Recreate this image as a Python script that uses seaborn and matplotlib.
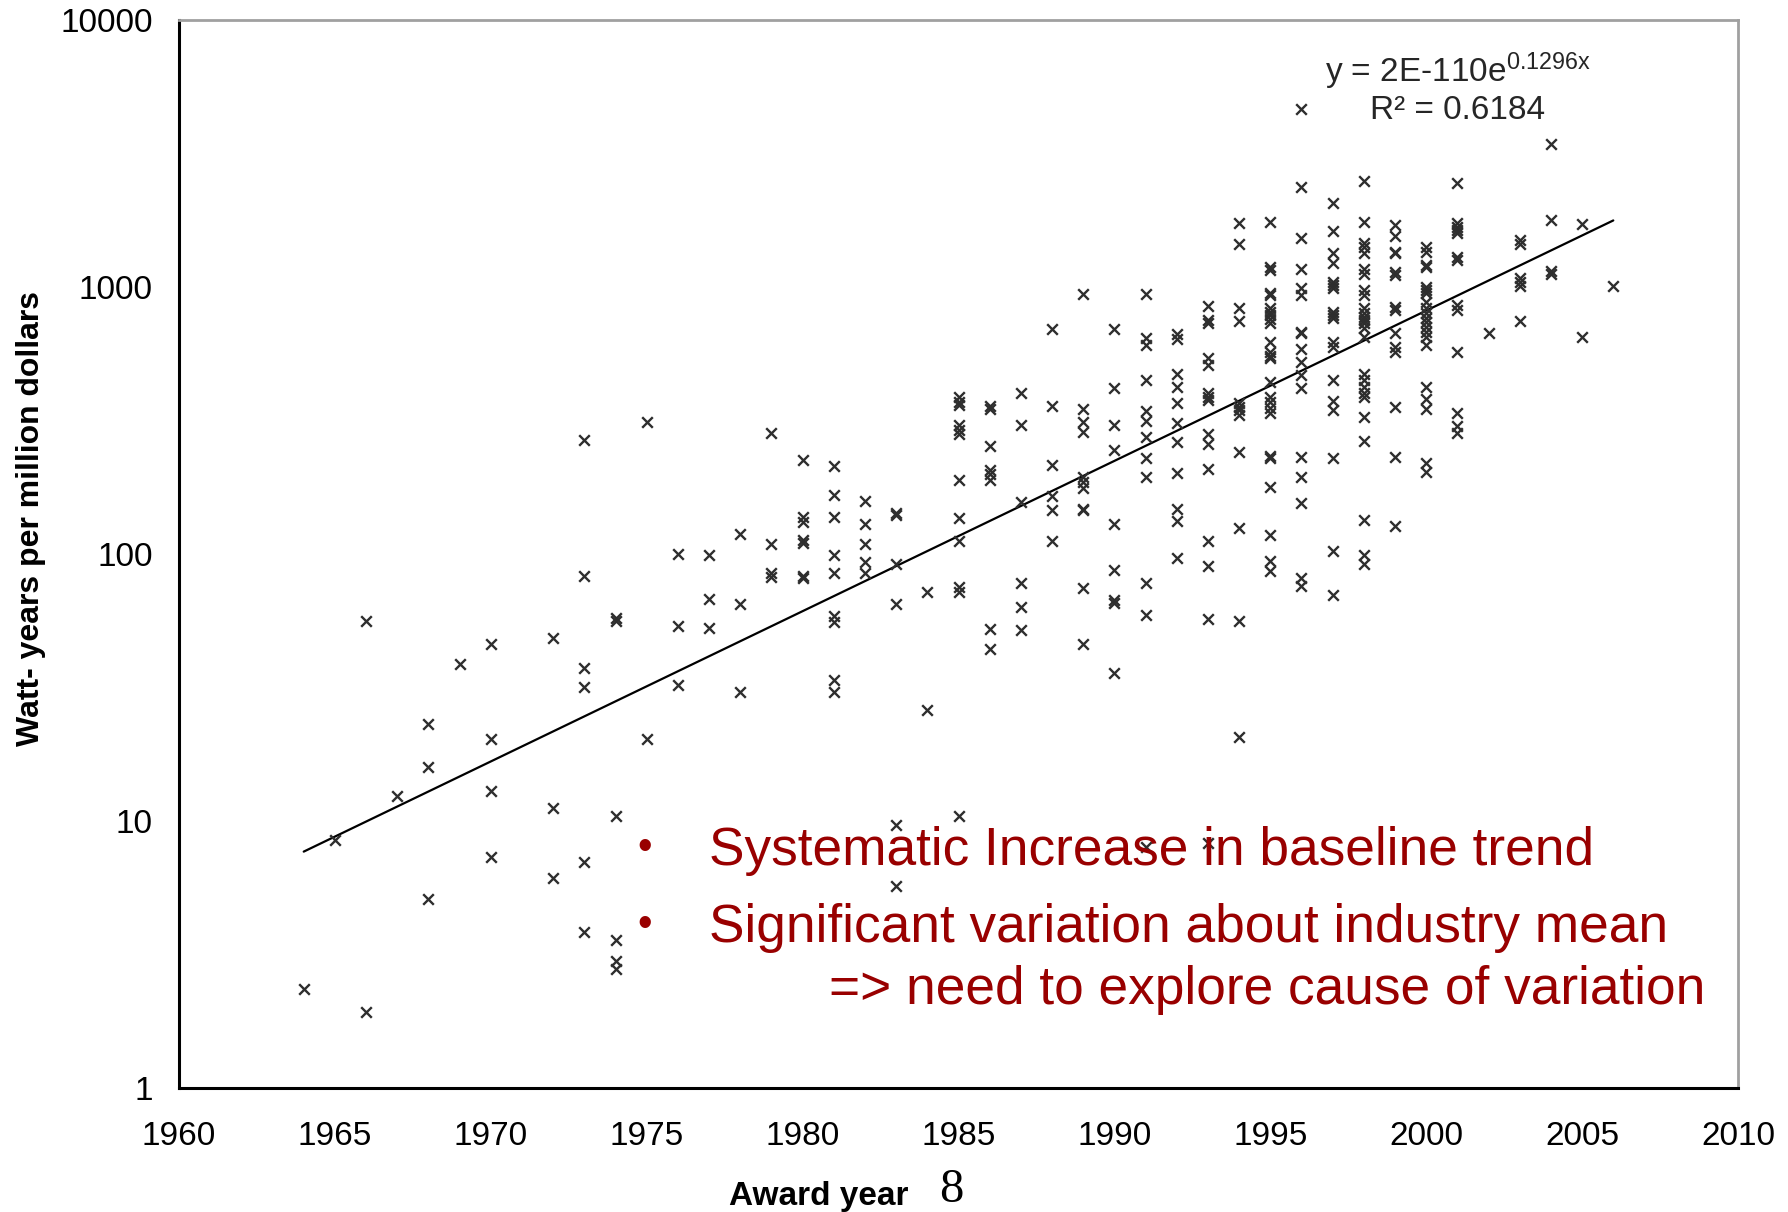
import numpy as np
import pandas as pd
import matplotlib
matplotlib.use("Agg")
import matplotlib.pyplot as plt
import seaborn as sns
from matplotlib.ticker import FixedLocator, FuncFormatter, NullLocator

# ---------------- data ----------------
years_1964_1979 = ([1964] + [1965] + [1966] * 2 + [1967] + [1968] * 3 + [1969] + [1970] * 4 +
                   [1972] * 3 + [1973] * 6 + [1974] * 6 + [1975] * 2 + [1976] * 3 + [1977] * 3 +
                   [1978] * 3 + [1979] * 4)
values_1964_1979 = [2.35, 8.5, 56, 1.93, 12.4, 23, 15.9, 5.1, 38.6, 46, 20.3, 12.9, 7.3,
                    48.6, 11.2, 6.1, 267, 83, 37.3, 31.8, 7.0, 3.83,
                    57.4, 56.3, 10.4, 3.58, 3.0, 2.8, 313, 20.3, 100, 53.9, 32.3,
                    99, 68, 53, 119, 65, 30.5, 285, 109, 85, 82]

years_1980_1990 = ([1980] * 7 + [1981] * 9 + [1982] * 5 + [1983] * 6 + [1984] * 2 + [1985] * 12 +
                   [1986] * 8 + [1987] * 6 + [1988] * 6 + [1989] * 11 + [1990] * 9)
values_1980_1990 = [225, 138, 132, 113, 110, 83, 81,
                    213, 166, 137, 99, 85, 58.5, 55.7, 33.7, 30.3,
                    158, 130, 109, 93, 85,
                    143, 140, 92, 65, 9.7, 5.7,
                    72, 26,
                    388, 372, 361, 304, 291, 281, 190, 136, 112, 75, 72.3, 10.4,
                    358, 348, 254, 206, 200, 190, 52.2, 44,
                    402, 304, 157, 78, 63.5, 52,
                    695, 357, 215, 165, 146, 112,
                    944, 348, 313, 287, 195, 186, 176, 148, 146, 74.5, 46,
                    697, 418, 304, 245, 130, 87, 67.3, 65.6, 35.9]

years_1991_1995 = [1991] * 12 + [1992] * 11 + [1993] * 15 + [1994] * 12 + [1995] * 25
values_1991_1995 = [942, 642, 606, 448, 344, 316, 275, 228, 195, 78, 59, 8.0,
                    667, 637, 472, 423, 369, 309, 262, 201, 148, 133, 97,
                    849, 752, 735, 541, 510, 400, 388, 377, 281, 258, 208, 112, 90, 57, 8.3,
                    1733, 1449, 832, 748, 369, 356, 346, 331, 240, 125, 56, 20.7,
                    1757, 1185, 1158, 947, 934, 832, 808, 785, 757, 735, 624, 572, 552, 541,
                    442, 388, 372, 351, 338, 233, 228, 178, 118, 94, 86]

years_1996_2006 = ([1996] * 17 + [1997] * 18 + [1998] * 26 + [1999] * 14 + [2000] * 21 +
                   [2001] * 13 + [2002] + [2003] * 6 + [2004] * 4 + [2005] * 2 + [2006])
values_1996_2006 = [4640, 2375, 1522, 1165, 989, 934, 680, 671, 584, 525, 468, 418, 231, 195, 155, 81, 76,
                    2058, 1625, 1345, 1233, 1047, 1018, 989, 808, 785, 763, 624, 598, 448, 375, 346, 228, 103, 70,
                    2502, 1757, 1466, 1416, 1345, 1165, 1119, 974, 934, 832, 797, 774, 752, 731, 700, 651,
                    472, 448, 423, 400, 388, 325, 264, 134, 99, 92,
                    1707, 1553, 1356, 1345, 1141, 1109, 844, 820, 671, 598, 572, 354, 231, 127,
                    1416, 1356, 1209, 1185, 1003, 974, 947, 881, 832, 797, 763, 742, 710, 680, 651, 606,
                    423, 380, 348, 220, 202,
                    2460, 1732, 1682, 1635, 1589, 1299, 1262, 856, 820, 572, 337, 302, 283,
                    671,
                    1500, 1449, 1078, 1047, 1008, 748,
                    3440, 1782, 1151, 1119,
                    1722, 648,
                    1011]

# exponential trend  y = a * exp(b * x)   (label shows the rounded coefficient)
trend_a = 2.2e-110
trend_b = 0.1296
trend_start, trend_end = 1964, 2006
equation_label = r"y = 2E-110e$^{0.1296x}$"
r2_label = "R² = 0.6184"

x_ticks = [1960, 1965, 1970, 1975, 1980, 1985, 1990, 1995, 2000, 2005, 2010]
y_ticks = [1, 10, 100, 1000, 10000]

bullet_lines = ["Systematic Increase in baseline trend",
                "Significant variation about industry mean",
                "=> need to explore cause of variation"]

# ---------------- build frame ----------------
df = pd.DataFrame({
    "year": years_1964_1979 + years_1980_1990 + years_1991_1995 + years_1996_2006,
    "value": values_1964_1979 + values_1980_1990 + values_1991_1995 + values_1996_2006,
})
trend_x = np.linspace(trend_start, trend_end, 200)
trend_df = pd.DataFrame({"year": trend_x,
                         "value": np.exp(np.log(trend_a) + trend_b * trend_x)})

# ---------------- style ----------------
sns.set_theme(style="white")
plt.rcParams["font.family"] = ["Liberation Sans", "DejaVu Sans"]
plt.rcParams["mathtext.fontset"] = "custom"
plt.rcParams["mathtext.rm"] = "Liberation Sans"
plt.rcParams["mathtext.it"] = "Liberation Sans"
plt.rcParams["mathtext.bf"] = "Liberation Sans:bold"

W, H = 1788, 1212
fig = plt.figure(figsize=(W / 100, H / 100), dpi=100)
ax = fig.add_axes([179 / W, 1 - 1088 / H, (1738 - 179) / W, (1088 - 20) / H])

sns.lineplot(data=trend_df, x="year", y="value", ax=ax, color="black", linewidth=1.6, zorder=2)
sns.scatterplot(data=df, x="year", y="value", ax=ax, marker="x", color="#2e2e2e",
                s=58, linewidth=1.7, zorder=3)

ax.set_yscale("log")
ax.set_xlim(1960, 2010)
ax.set_ylim(1, 10000)
ax.xaxis.set_major_locator(FixedLocator(x_ticks))
ax.yaxis.set_major_locator(FixedLocator(y_ticks))
ax.yaxis.set_minor_locator(NullLocator())
ax.xaxis.set_minor_locator(NullLocator())
ax.yaxis.set_major_formatter(FuncFormatter(lambda v, p: f"{int(round(v))}"))
ax.xaxis.set_major_formatter(FuncFormatter(lambda v, p: f"{int(round(v))}"))

ax.tick_params(axis="both", which="major", direction="out", length=7, width=1.4,
               color="black", labelcolor="black", labelsize=24)
ax.tick_params(axis="y", pad=12)
ax.tick_params(axis="x", pad=17)
ax.set_xlabel("")
ax.set_ylabel("")
ax.grid(False)

for side in ["left", "bottom"]:
    ax.spines[side].set_color("black")
    ax.spines[side].set_linewidth(2.2)
for side in ["top", "right"]:
    ax.spines[side].set_color("#a0a0a0")
    ax.spines[side].set_linewidth(2.0)

# axis titles
fig.text(31 / W, 1 - 518 / H, "Watt- years per million dollars", rotation=90,
         ha="center", va="center", fontsize=23, fontweight="bold", color="black")
fig.text(819 / W, 1 - 1205 / H, "Award year", ha="center", va="baseline",
         fontsize=24, fontweight="bold", color="black")
fig.text(951 / W, 1 - 1202 / H, "8", ha="center", va="baseline",
         fontsize=35, family=["Liberation Serif", "DejaVu Serif"], color="black")

# trend equation
fig.text(1458 / W, 1 - 82 / H, equation_label, ha="center", va="baseline", fontsize=24)
fig.text(1458 / W, 1 - 119 / H, r2_label, ha="center", va="baseline", fontsize=24)

# bullet annotations
red = "#990000"
fig.text(645 / W, 1 - 859 / H, "•", ha="center", va="baseline", fontsize=30, color=red)
fig.text(709 / W, 1 - 865 / H, bullet_lines[0], ha="left", va="baseline", fontsize=38.3, color=red)
fig.text(645 / W, 1 - 936 / H, "•", ha="center", va="baseline", fontsize=30, color=red)
fig.text(709 / W, 1 - 942 / H, bullet_lines[1], ha="left", va="baseline", fontsize=38.3, color=red)
fig.text(829 / W, 1 - 1004 / H, bullet_lines[2], ha="left", va="baseline", fontsize=38.3, color=red)

fig.savefig("out.png", dpi=100, facecolor="white")
